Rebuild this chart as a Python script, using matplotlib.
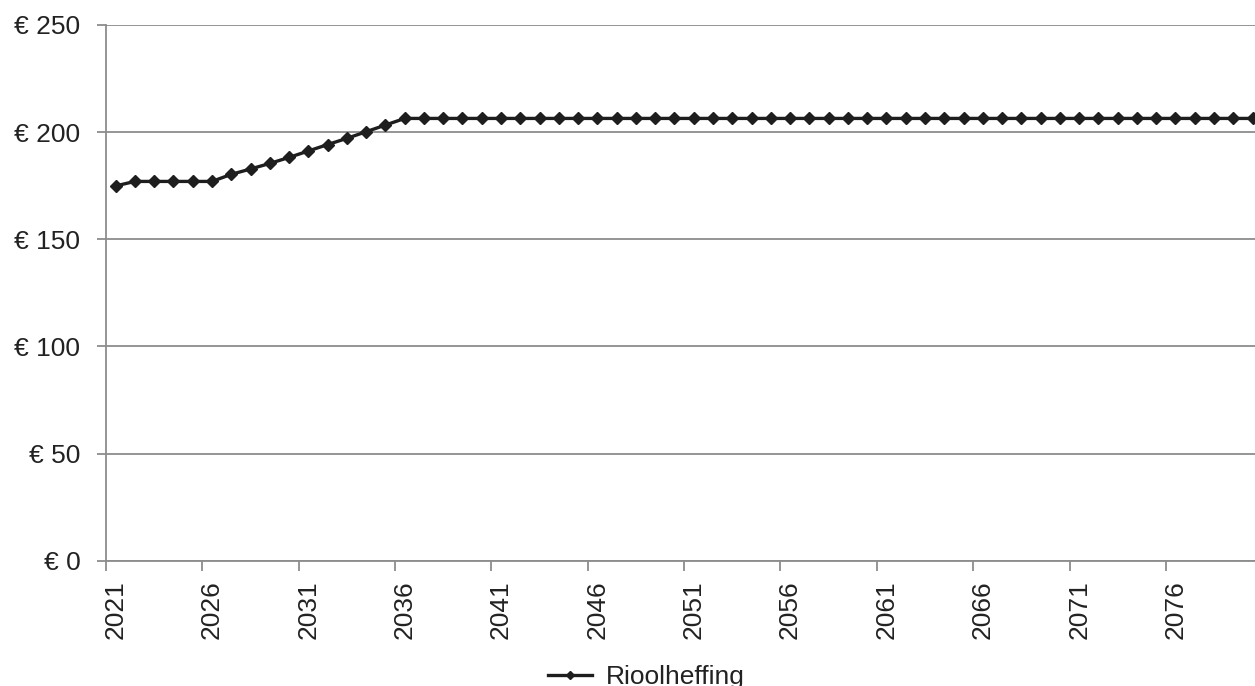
import matplotlib
matplotlib.use('Agg')
import matplotlib.pyplot as plt
import numpy as np

plt.rcParams['font.family'] = ['Liberation Sans', 'DejaVu Sans']

# data
years = list(range(2021, 2081))
rioolheffing = [174.9, 177.0, 177.0, 177.0, 177.0, 177.0, 180.3, 182.8, 185.4, 188.2,
                191.2, 194.2, 197.1, 200.2, 203.3] + [206.4] * 45
y_ticks = [0, 50, 100, 150, 200, 250]
y_tick_labels = ['€ 0', '€ 50', '€ 100', '€ 150', '€ 200', '€ 250']

W, H = 1255, 686
fig = plt.figure(figsize=(W / 100, H / 100), dpi=100)
ax = fig.add_axes([106 / W, 1 - 560.7 / H, 1 - 106 / W, (560.7 - 25) / H])

x = np.arange(len(years))
ax.plot(x, rioolheffing, color='#1e1e1e', linewidth=2.4, marker='D', markersize=6.5,
        label='Rioolheffing', zorder=3)

grid_col = '#8c8c8c'
txt_col = '#222222'
ax.set_ylim(0, 250)
ax.set_yticks(y_ticks)
ax.set_yticklabels(y_tick_labels)
ax.yaxis.grid(True, color=grid_col, linewidth=1.3)
ax.set_axisbelow(True)

ax.set_xlim(-0.5, -0.5 + (W - 106) / 19.27)
label_pos = x[::5]
ax.set_xticks(label_pos - 0.5)
ax.set_xticklabels([])
ax.set_xticks(label_pos, minor=True)
ax.set_xticklabels([str(years[i]) for i in label_pos], minor=True, rotation=90)

ax.tick_params(axis='x', which='major', length=7, width=1.3, color=grid_col)
ax.tick_params(axis='x', which='minor', length=0, pad=14, labelsize=19, labelcolor=txt_col)
ax.tick_params(axis='y', length=6.5, width=1.3, color=grid_col, pad=12, labelsize=19,
               labelcolor=txt_col)

for side in ['top', 'right']:
    ax.spines[side].set_visible(False)
for side in ['left', 'bottom']:
    ax.spines[side].set_color(grid_col)
    ax.spines[side].set_linewidth(1.3)

leg = fig.legend(loc='center', bbox_to_anchor=(646 / W, 1 - 677 / H), frameon=False,
                 fontsize=19, handlelength=1.7, handletextpad=0.5, markerscale=0.7)
for t in leg.get_texts():
    t.set_color(txt_col)

fig.savefig('out.png', dpi=100)
